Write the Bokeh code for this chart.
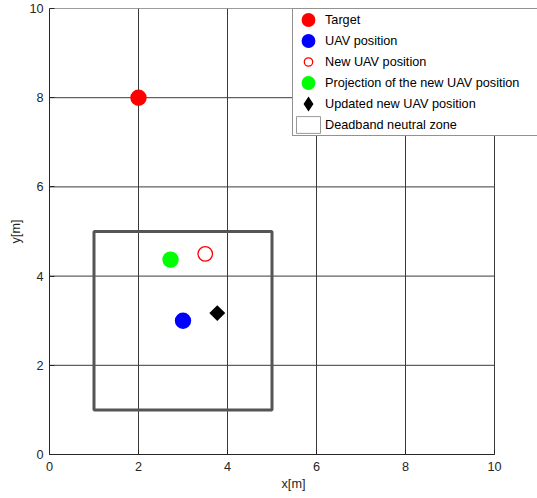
from bokeh.plotting import figure
from bokeh.models import Legend, LegendItem, Range1d, ColumnDataSource, FixedTicker
from bokeh.embed import file_html
from bokeh.resources import INLINE
import math

# ---- data ----
target_x = [2.0]
target_y = [8.0]
uav_x = [3.0]
uav_y = [3.0]
new_uav_x = [3.5]
new_uav_y = [4.5]
proj_x = [2.72]
proj_y = [4.37]
upd_x = [3.77]
upd_y = [3.17]
dead_left = [1.0]
dead_right = [5.0]
dead_bottom = [1.0]
dead_top = [5.0]
x_ticks = [0, 2, 4, 6, 8, 10]
y_ticks = [0, 2, 4, 6, 8, 10]
legend_labels = ["Target", "UAV position", "New UAV position",
                 "Projection of the new UAV position", "Updated new UAV position",
                 "Deadband neutral zone"]

FONT = "Liberation Sans"
FS = "12.7px"
W, H = 537, 498
BL, BR, BT, BB = 49, 0, 8, 44
frame_w = W - BL - BR
px_per_unit = 44.5
x_end = x_ticks[0] + frame_w / px_per_unit   # frame extends past x=10 so legend can overhang

p = figure(width=W, height=H, x_range=Range1d(x_ticks[0], x_end), y_range=Range1d(y_ticks[0], y_ticks[-1]),
           output_backend="svg", toolbar_location=None,
           min_border_left=BL, min_border_right=BR, min_border_top=BT, min_border_bottom=BB)

p.background_fill_color = "white"
p.border_fill_color = "white"
p.outline_line_color = None
p.xgrid.grid_line_color = None
p.ygrid.grid_line_color = None

for ax, ticks in ((p.xaxis, x_ticks), (p.yaxis, y_ticks)):
    ax.ticker = FixedTicker(ticks=ticks)
    ax.bounds = (ticks[0], ticks[-1])
    ax.major_tick_in = 5
    ax.major_tick_out = 0
    ax.minor_tick_line_color = None
    ax.axis_line_color = "#262626"
    ax.major_tick_line_color = "#262626"
    ax.major_label_text_font = FONT
    ax.major_label_text_font_size = FS
    ax.major_label_text_color = "#262626"
    ax.axis_label_text_font = FONT
    ax.axis_label_text_font_size = FS
    ax.axis_label_text_font_style = "normal"
    ax.axis_label_text_color = "#262626"

p.xaxis.axis_label = "x[m]"
p.yaxis.axis_label = "y[m]"
p.xaxis.major_label_standoff = 7
p.xaxis.axis_label_standoff = 3
p.yaxis.major_label_standoff = 6
p.yaxis.axis_label_standoff = 3

# grid lines (and top/right box edges) limited to the 0..10 box
n_x, n_y = len(x_ticks), len(y_ticks)
p.segment(x0=x_ticks, y0=[y_ticks[0]] * n_x, x1=x_ticks, y1=[y_ticks[-1]] * n_x,
          line_color="#3a3a3a", line_width=1)
p.segment(x0=[x_ticks[0]] * n_y, y0=y_ticks, x1=[x_ticks[-1]] * n_y, y1=y_ticks,
          line_color="#3a3a3a", line_width=1)

# deadband zone: thin renderer (used for the legend) under the thick visible one
dead_src = ColumnDataSource(dict(left=dead_left, right=dead_right, bottom=dead_bottom, top=dead_top))
r_dead_leg = p.quad(left="left", right="right", bottom="bottom", top="top", source=dead_src,
                    fill_color=None, line_color="#9a9a9a", line_width=1)
r_dead = p.quad(left="left", right="right", bottom="bottom", top="top", source=dead_src,
                fill_color=None, line_color="#555555", line_width=3)

r_target = p.scatter(target_x, target_y, marker="circle", size=11, fill_color="#ff0000",
                     line_color="#ff0000", line_width=5.4)
r_uav = p.scatter(uav_x, uav_y, marker="circle", size=11, fill_color="#0000ff",
                  line_color="#0000ff", line_width=5.4)
r_new = p.scatter(new_uav_x, new_uav_y, marker="circle", size=14.5, fill_color=None,
                  line_color="#ff0000", line_width=1.3)
r_proj = p.scatter(proj_x, proj_y, marker="circle", size=11, fill_color="#00ff00",
                   line_color="#00ff00", line_width=5.4)
# diamond legend glyph (hidden under the rotated square in the plot)
r_upd_leg = p.scatter(upd_x, upd_y, marker="diamond", size=4, fill_color="black",
                      line_color="black", line_width=3.6, line_join="miter")
r_upd = p.scatter(upd_x, upd_y, marker="square", size=8, angle=math.pi / 4,
                  fill_color="black", line_color="black", line_width=3.3, line_join="miter")

items = [LegendItem(label=lab, renderers=[r]) for lab, r in zip(
    legend_labels, [r_target, r_uav, r_new, r_proj, r_upd_leg, r_dead_leg])]
legend = Legend(items=items, location=(243, 318))
legend.glyph_width = 30
legend.glyph_height = 21
legend.label_height = 14
legend.label_width = 215
legend.spacing = 0
legend.padding = 0
legend.margin = 0
legend.label_standoff = 2
legend.label_text_font = FONT
legend.label_text_font_size = FS
legend.label_text_color = "black"
legend.border_line_color = "#262626"
legend.border_line_width = 1
legend.background_fill_color = "white"
legend.background_fill_alpha = 1.0
p.add_layout(legend)

open("out.html", "w").write(file_html(p, INLINE))
